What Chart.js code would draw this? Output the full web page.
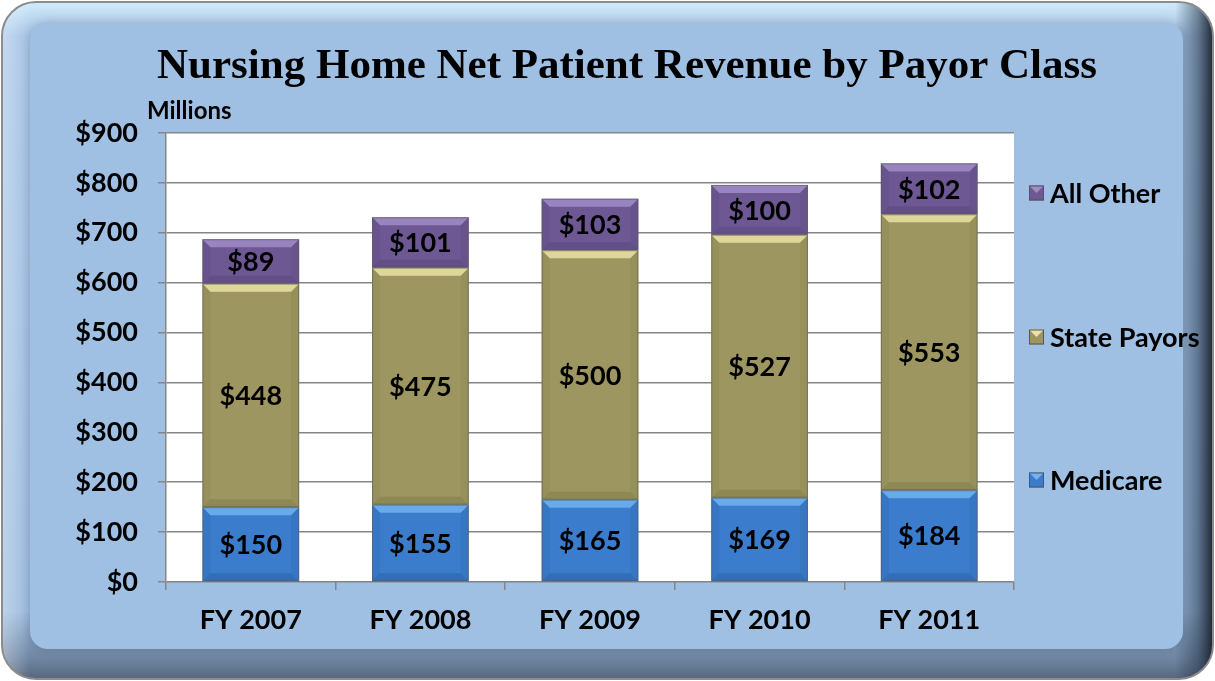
<!DOCTYPE html>
<html>
<head>
<meta charset="utf-8">
<script src="https://cdn.jsdelivr.net/npm/chart.js@4.4.1/dist/chart.umd.min.js"></script>
<style>
  html, body { margin: 0; padding: 0; background: #fff; }
  #wrap { width: 1215px; height: 681px; }
</style>
</head>
<body>
<div id="wrap"><canvas id="myChart" width="1215" height="681"></canvas></div>
<script>
// data (millions of $)
const categories = ['FY 2007', 'FY 2008', 'FY 2009', 'FY 2010', 'FY 2011'];
const medicare = [150, 155, 165, 169, 184];
const statePayors = [448, 475, 500, 527, 553];
const allOther = [89, 101, 103, 100, 102];
const seriesNames = ['Medicare', 'State Payors', 'All Other'];

const TITLE = 'Nursing Home Net Patient Revenue by Payor Class';
const SANS = 'Lato, "Open Sans", sans-serif';

// colours: [main, light top, dark bottom]
const palette = {
  'Medicare': ['#3b7dcc', '#72b2f0', '#2a5c9c'],
  'State Payors': ['#9d9660', '#ebe3a4', '#7d7748'],
  'All Other': ['#6d5894', '#a08cc6', '#564474']
};

function roundRect(ctx, x, y, w, h, r) {
  ctx.beginPath();
  ctx.moveTo(x + r, y);
  ctx.arcTo(x + w, y, x + w, y + h, r);
  ctx.arcTo(x + w, y + h, x, y + h, r);
  ctx.arcTo(x, y + h, x, y, r);
  ctx.arcTo(x, y, x + w, y, r);
  ctx.closePath();
}

// blue bevelled frame + white plot area
const framePlugin = {
  id: 'frame',
  beforeDraw(chart) {
    const ctx = chart.ctx;
    const W = chart.width, H = chart.height;
    ctx.save();
    roundRect(ctx, 2, 2, W - 4, H - 4, 34);
    let g = ctx.createLinearGradient(0, 2, 0, H - 2);
    g.addColorStop(0, '#d2ecfb');
    g.addColorStop(0.05, '#a6c5e8');
    g.addColorStop(0.9, '#9cbbe0');
    g.addColorStop(0.97, '#6f86a3');
    g.addColorStop(1, '#56677c');
    ctx.fillStyle = g;
    ctx.fill();
    ctx.save();
    ctx.clip();
    let gr = ctx.createLinearGradient(W - 40, 0, W - 2, 0);
    gr.addColorStop(0, 'rgba(40,55,75,0)');
    gr.addColorStop(0.6, 'rgba(40,55,75,0.55)');
    gr.addColorStop(1, 'rgba(25,30,40,0.95)');
    ctx.fillStyle = gr;
    ctx.fillRect(W - 40, 0, 40, H);
    let gl = ctx.createLinearGradient(2, 0, 30, 0);
    gl.addColorStop(0, 'rgba(255,255,255,0.35)');
    gl.addColorStop(1, 'rgba(255,255,255,0)');
    ctx.fillStyle = gl;
    ctx.fillRect(0, 0, 30, H);
    ctx.restore();
    ctx.lineWidth = 2;
    ctx.strokeStyle = '#8c8c8c';
    ctx.stroke();

    // inner face
    ctx.shadowColor = 'rgba(0,0,0,0.18)';
    ctx.shadowBlur = 12;
    roundRect(ctx, 30, 22, W - 62, H - 54, 18);
    ctx.fillStyle = '#9fbfe3';
    ctx.fill();
    ctx.shadowBlur = 0;

    const a = chart.chartArea;
    ctx.fillStyle = '#ffffff';
    ctx.fillRect(a.left, a.top, a.right - a.left, a.bottom - a.top);

    // title
    ctx.fillStyle = '#000';
    ctx.font = 'bold 43px "Liberation Serif", serif';
    ctx.textAlign = 'center';
    ctx.textBaseline = 'middle';
    ctx.fillText(TITLE, 627, 67);
    ctx.font = 'bold 24px ' + SANS;
    ctx.textAlign = 'left';
    ctx.fillText('Millions', 147, 111);
    ctx.restore();
  }
};

// bevel on each bar, segment value labels, legend
const barDecor = {
  id: 'barDecor',
  afterDatasetsDraw(chart) {
    const ctx = chart.ctx;
    ctx.save();
    chart.data.datasets.forEach((ds, di) => {
      const cols = palette[ds.label];
      chart.getDatasetMeta(di).data.forEach((el) => {
        const l = el.x - el.width / 2, r = el.x + el.width / 2;
        const t = Math.min(el.y, el.base), b = Math.max(el.y, el.base);
        const e = Math.min(8, (b - t) / 3);
        // top bevel
        ctx.beginPath();
        ctx.moveTo(l, t); ctx.lineTo(r, t); ctx.lineTo(r - e, t + e); ctx.lineTo(l + e, t + e); ctx.closePath();
        ctx.fillStyle = cols[1];
        ctx.globalAlpha = 0.85;
        ctx.fill();
        // bottom bevel
        ctx.beginPath();
        ctx.moveTo(l, b); ctx.lineTo(r, b); ctx.lineTo(r - e, b - e); ctx.lineTo(l + e, b - e); ctx.closePath();
        ctx.fillStyle = cols[2];
        ctx.globalAlpha = 0.45;
        ctx.fill();
        // sides
        ctx.globalAlpha = 0.2;
        ctx.fillStyle = cols[2];
        ctx.beginPath();
        ctx.moveTo(l, t); ctx.lineTo(l + e, t + e); ctx.lineTo(l + e, b - e); ctx.lineTo(l, b); ctx.closePath();
        ctx.fill();
        ctx.beginPath();
        ctx.moveTo(r, t); ctx.lineTo(r - e, t + e); ctx.lineTo(r - e, b - e); ctx.lineTo(r, b); ctx.closePath();
        ctx.fill();
        ctx.globalAlpha = 1;
        ctx.strokeStyle = 'rgba(90,90,90,0.6)';
        ctx.lineWidth = 1;
        ctx.strokeRect(l + 0.5, t + 0.5, r - l - 1, b - t - 1);
      });
    });
    ctx.fillStyle = '#000';
    ctx.font = 'bold 27px ' + SANS;
    ctx.textAlign = 'center';
    ctx.textBaseline = 'middle';
    chart.data.datasets.forEach((ds, di) => {
      chart.getDatasetMeta(di).data.forEach((el, i) => {
        ctx.fillText('$' + ds.data[i], el.x, (el.y + el.base) / 2 + 1);
      });
    });

    // legend, top entry = last series
    const legendY = [193, 337, 480];
    const names = seriesNames.slice().reverse();
    names.forEach((n, k) => {
      const cols = palette[n];
      const y = legendY[k];
      const x0 = 1029, s = 15;
      ctx.fillStyle = cols[0];
      ctx.fillRect(x0, y - s / 2, s, s);
      ctx.fillStyle = cols[1];
      ctx.beginPath();
      ctx.moveTo(x0, y - s / 2); ctx.lineTo(x0 + s, y - s / 2); ctx.lineTo(x0 + s / 2, y); ctx.closePath();
      ctx.fill();
      ctx.strokeStyle = '#555';
      ctx.strokeRect(x0 + 0.5, y - s / 2 + 0.5, s - 1, s - 1);
      ctx.fillStyle = '#000';
      ctx.textAlign = 'left';
      ctx.font = 'bold 27px ' + SANS;
      ctx.fillText(n, 1050, y + 1);
    });
    ctx.restore();
  }
};

const seriesData = [medicare, statePayors, allOther];

new Chart(document.getElementById('myChart'), {
  type: 'bar',
  data: {
    labels: categories,
    datasets: seriesNames.map((name, i) => ({
      label: name,
      data: seriesData[i],
      backgroundColor: palette[name][0],
      borderWidth: 0,
      barPercentage: 0.57,
      categoryPercentage: 1.0
    }))
  },
  options: {
    responsive: false,
    animation: false,
    devicePixelRatio: 1,
    layout: { padding: { top: 133, right: 201, bottom: 0, left: 0 } },
    plugins: {
      legend: { display: false },
      title: { display: false },
      tooltip: { enabled: false }
    },
    scales: {
      x: {
        stacked: true,
        afterFit: (s) => { s.height = 99; },
        grid: { offset: true, drawOnChartArea: false, tickLength: 8, color: '#868686', lineWidth: 1.5 },
        border: { display: false },
        ticks: { color: '#000', padding: 14, font: { family: SANS, size: 27, weight: 'bold' } }
      },
      y: {
        stacked: true,
        min: 0,
        max: 900,
        afterFit: (s) => { s.width = 166; },
        grid: { color: '#868686', lineWidth: 1.5, tickLength: 8 },
        border: { display: true, color: '#868686', width: 1.5 },
        ticks: {
          stepSize: 100,
          color: '#000',
          padding: 20,
          font: { family: SANS, size: 27, weight: 'bold' },
          callback: (v) => '$' + v
        }
      }
    }
  },
  plugins: [framePlugin, barDecor]
});
</script>
</body>
</html>
